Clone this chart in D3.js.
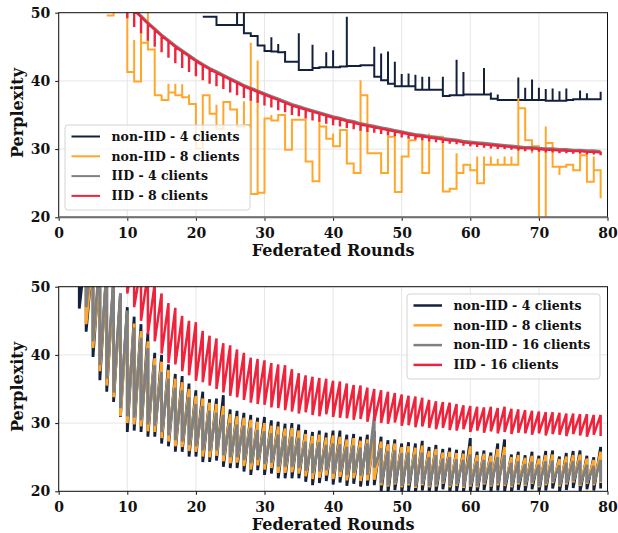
<!DOCTYPE html>
<html>
<head>
<meta charset="utf-8">
<script src="https://cdn.jsdelivr.net/npm/d3@7"></script>
<style>
body { margin: 0; background: #fff; }
text { font-family: "DejaVu Serif", serif; font-weight: bold; fill: #111; }
</style>
</head>
<body>
<svg id="chart" width="618" height="533"></svg>
<script>
// ---- data: top panel (non-IID 4/8 vs IID 4/8) ----
var xTicks = [0, 10, 20, 30, 40, 50, 60, 70, 80]
var yTicks = [20, 30, 40, 50]
var topLabels = ['non-IID - 4 clients', 'non-IID - 8 clients', 'IID - 4 clients', 'IID - 8 clients']
var botLabels = ['non-IID - 4 clients', 'non-IID - 8 clients', 'non-IID - 16 clients', 'IID - 16 clients']
var colors = ['#14213d', '#ffa62b', '#808080', '#ef233c']

var navyTopStart = 21
var navyTopBase = [49.4,49.4,48.2,48.2,48.2,48.2,47.0,46.6,45.2,44.4,44.3,44.2,42.8,42.8,41.6,41.6,41.9,42.0,42.0,42.0,42.1,42.2,42.2,42.3,42.3,40.6,40.1,39.6,39.2,39.2,39.2,38.7,38.7,38.7,38.7,37.8,37.9,37.9,38.0,38.0,38.0,38.0,37.4,37.2,37.2,37.2,37.2,37.2,37.2,37.2,37.1,37.1,37.1,37.2,37.3,37.3,37.3,37.3,37.3]
var navyTopSpike = [49.4,49.4,49.4,48.2,48.2,51,51,46.6,45.7,44.4,46.4,45.4,44.4,42.8,47.0,41.6,45.3,42.0,44.2,44.5,42.1,49.4,42.2,42.3,42.3,45.0,44.0,44.3,42.8,41.0,41.1,40.9,40.6,40.6,38.7,40.6,37.9,43.1,41.3,38.0,38.0,41.9,38.3,38.0,37.2,37.2,40.5,39.0,40.2,39.0,38.8,38.9,38.5,38.9,37.3,38.6,38.2,37.3,38.4]

var orangeTopStart = 7
var orangeTopBase = [49.6,51,51,41.3,39.9,45.6,44.6,37.9,37.2,38.3,37.9,37.6,36.6,30.1,37.9,35.2,33.0,36.9,35.8,33.3,33.5,23.4,23.6,34.5,34.2,35.0,29.9,34.3,34.3,28.2,25.3,33.3,31.5,30.4,32.8,27.9,26.5,37.9,29.4,29.4,26.5,31.8,23.7,28.9,31.3,31.8,26.5,31.8,31.8,23.8,24.2,26.5,27.7,26.9,25.0,27.7,27.7,27.7,27.7,27.7,36.0,31.3,30.4,15,30.9,27.4,27.4,27.7,26.9,29.1,25.2,26.9,22.8]
var orangeTopSpike = [49.6,51,51,41.3,46.0,47.1,51,37.9,38.0,39.6,39.6,39.5,38.0,35.5,37.9,35.2,36.5,33.0,35.8,35.0,37.0,45.6,43.0,34.5,35.0,35.0,35.0,34.3,34.3,28.2,25.3,34.3,31.5,32.3,32.8,27.9,26.5,40.1,29.4,29.4,26.5,31.8,23.7,28.9,31.3,32.3,26.5,32.3,31.8,23.8,24.2,29.4,26.5,26.9,28.9,28.9,28.9,28.6,28.9,28.9,37.5,31.3,29.4,15,33.3,27.4,26.2,27.7,26.9,29.1,25.2,28.9,22.8]

var grayTopStart = 11
var grayTopBase = [50.5,49.6,48.6,47.7,46.8,46.0,45.2,44.5,43.8,43.1,42.5,41.9,41.4,40.9,40.4,39.9,39.4,39.0,38.6,38.2,37.8,37.4,37.0,36.6,36.3,36.0,35.7,35.4,35.1,34.8,34.6,34.3,34.1,33.8,33.6,33.4,33.2,33.0,32.8,32.6,32.4,32.2,32.1,31.9,31.8,31.6,31.5,31.4,31.2,31.1,31.0,30.9,30.8,30.7,30.6,30.5,30.4,30.3,30.3,30.2,30.1,30.1,30.0,30.0,29.9,29.9,29.8,29.8,29.7]

var redTopStart = 9
var redTopBase = [53,51.5,50.3,49.4,48.4,47.5,46.6,45.8,45.0,44.3,43.6,42.9,42.3,41.7,41.2,40.7,40.2,39.7,39.2,38.8,38.4,38.0,37.6,37.2,36.8,36.4,36.1,35.8,35.5,35.2,34.9,34.6,34.4,34.1,33.9,33.6,33.4,33.2,33.0,32.8,32.6,32.4,32.2,32.0,31.9,31.7,31.6,31.4,31.3,31.2,31.0,30.9,30.8,30.7,30.6,30.5,30.4,30.3,30.2,30.1,30.1,30.0,29.9,29.9,29.8,29.8,29.7,29.7,29.6,29.6,29.5]
var redTopDip = [50.5,49.2,47.9,47.0,45.9,45.0,44.2,43.4,42.6,41.9,41.3,40.7,40.1,39.6,39.2,38.8,38.3,37.9,37.5,37.1,36.8,36.4,36.1,35.7,35.4,35.0,34.8,34.5,34.2,34.0,33.7,33.5,33.3,33.1,32.9,32.7,32.5,32.4,32.2,32.0,31.9,31.7,31.5,31.4,31.3,31.1,31.0,30.9,30.8,30.7,30.5,30.4,30.3,30.2,30.1,30.0,30.0,29.9,29.8,29.7,29.7,29.6,29.5,29.5,29.4,29.4,29.3,29.3,29.2,29.2,29.1]

// ---- data: bottom panel (non-IID 4/8/16 vs IID 16) ----
var navyBotStart = 3
var navyBotHigh = [58,56,55,54,53,51,49,47,45.6,44.5,43.2,40.3,40.0,38.6,37.2,36.9,35.8,34.8,34.6,33.5,33.6,34.1,32.0,31.8,31.5,31.2,30.8,30.9,30.4,30.2,29.9,30.0,29.8,29.0,28.7,28.9,28.6,28.9,28.9,28.3,28.4,28.0,28.3,28.8,28.0,27.5,27.6,27.0,27.2,27.0,27.4,26.5,26.8,26.2,26.4,26.1,26.0,27.8,25.8,26.0,25.7,27.0,27.6,25.4,25.8,25.3,25.8,25.2,25.9,26.0,25.1,25.6,25.9,26.0,25.2,25.0,26.5]
var navyBotLow = [46.8,43.4,39.7,36.3,34.6,33.1,30.9,28.7,28.9,28.7,28.0,28.0,27.0,26.6,25.8,25.8,25.1,25.1,24.3,24.3,24.5,23.6,23.4,23.4,22.9,22.4,23.1,22.4,22.6,21.9,21.9,21.9,21.9,21.4,20.9,21.2,21.5,21.0,21.3,20.8,21.1,20.7,20.8,20.9,20.0,19.8,20.2,19.8,20.0,19.7,20.1,19.8,19.9,20.3,19.8,20.0,19.7,19.9,19.8,20.2,19.9,20.1,20.0,19.8,20.2,20.0,20.3,19.8,20.1,20.4,19.9,20.2,20.5,20.0,20.3,20.1,20.4]

var orangeBotStart = 4
var orangeBotHigh = [57,55,53,52,50,48,46,44.6,43.5,42.0,39.5,39.0,37.8,36.5,36.0,35.0,34.0,33.6,33.0,32.8,32.5,31.3,31.0,30.8,30.5,30.2,30.0,29.6,29.5,29.2,29.3,28.9,28.4,28.1,28.3,27.9,28.2,28.0,27.6,27.8,27.4,27.6,27.9,27.3,26.9,27.0,26.5,26.6,26.4,26.7,25.9,26.2,25.7,25.8,25.6,25.5,26.6,25.3,25.5,25.2,26.2,26.5,25.0,25.3,24.9,25.2,24.8,25.3,25.4,24.7,25.1,25.3,25.4,24.8,24.6,25.8]
var orangeBotLow = [44.5,41.0,37.6,35.5,33.8,31.0,30.0,29.8,29.5,28.8,28.7,27.8,27.3,26.6,26.5,25.9,25.8,25.1,25.0,25.2,24.4,24.1,24.2,23.7,23.2,23.8,23.2,23.4,22.7,22.7,22.8,22.6,22.2,21.8,22.0,22.3,21.8,22.1,21.6,21.9,21.5,21.6,21.7,20.9,20.7,21.0,20.6,20.9,20.5,20.9,20.6,20.7,21.1,20.6,20.8,20.5,20.7,20.6,21.0,20.7,20.9,20.8,20.6,21.0,20.8,21.1,20.6,20.9,21.2,20.7,21.0,21.3,20.8,21.1,20.9,21.2]

var grayBotStart = 4
var grayBotHigh = [58,56,54,52,51,49,46.5,44.0,42.5,41.0,38.5,37.5,36.5,35.2,34.8,33.8,32.8,32.5,31.8,31.5,31.2,30.0,29.8,29.6,29.3,29.0,28.8,28.5,28.3,28.1,28.0,27.8,27.3,27.0,27.2,26.8,27.0,26.9,26.5,26.7,26.4,27.0,31.0,26.3,25.9,26.0,25.6,25.7,25.4,25.7,25.0,25.3,24.8,25.0,24.7,24.6,25.4,24.4,24.6,24.3,25.0,25.3,24.2,24.4,24.0,24.3,23.9,24.4,24.5,23.8,24.2,24.4,24.5,23.9,23.7,24.6]
var grayBotLow = [47,42,38.5,36.5,34.5,32.2,31.0,30.8,30.4,29.8,29.6,28.7,28.2,27.5,27.3,26.8,26.6,26.0,25.9,26.0,25.3,25.0,25.0,24.6,24.1,24.6,24.0,24.2,23.6,23.6,23.6,23.4,23.0,22.7,22.9,23.1,22.6,22.9,22.4,22.7,22.3,22.4,23.5,21.2,20.9,21.2,20.8,21.1,20.7,21.1,20.8,20.9,21.3,20.8,21.0,20.7,20.9,20.8,21.2,20.9,21.1,21.0,20.8,21.2,21.0,21.3,20.8,21.1,21.4,20.9,21.2,21.5,21.0,21.3,21.1,21.4]

var redBotStart = 9
var redBotHigh = [58,56,55,53,52,50.5,49.0,47.6,46.9,45.7,45.0,44.8,43.5,42.8,42.4,41.7,41.4,40.8,40.3,39.6,39.4,39.2,38.8,38.6,38.5,37.9,37.3,37.0,36.8,36.6,36.5,36.2,36.1,35.8,35.6,35.5,35.2,35.0,34.8,34.6,34.4,34.2,34.0,33.9,33.7,33.4,33.2,33.1,33.0,32.8,32.6,32.5,32.4,32.3,32.4,32.2,32.4,32.1,32.0,31.9,31.8,31.7,31.6,31.6,31.5,31.4,31.4,31.3,31.3,31.2,31.2]
var redBotLow = [50,49,47,45,43,42,40.2,38.8,38.6,37.6,37.0,36.2,36.0,35.5,35.0,34.5,34.0,33.8,33.4,33.0,32.8,32.7,32.3,32.2,31.9,31.7,31.4,31.6,31.2,31.0,31.3,30.9,30.8,30.7,30.5,30.6,30.2,30.3,30.0,29.9,30.1,29.6,29.7,29.4,29.5,29.3,29.1,29.3,29.0,28.9,29.1,28.7,28.9,28.6,28.8,28.5,28.7,28.4,28.6,28.5,28.3,28.5,28.2,28.4,28.3,28.1,28.4,28.2,28.0,28.3,28.1]

// ---- layout ----
var svg = d3.select('#chart')
var x = d3.scaleLinear().domain([0, 80]).range([58.7, 607.5])
var panels = [
	{ id: 'top', y: d3.scaleLinear().domain([20, 50]).range([217.3, 12.7]) },
	{ id: 'bot', y: d3.scaleLinear().domain([20, 50]).range([491.3, 286.7]) }
]

function drawFrame(p) {
	var g = svg.append('g')
	var y = p.y
	// grid
	g.append('g').selectAll('line.vx').data(xTicks).enter().append('line')
		.attr('x1', d => x(d)).attr('x2', d => x(d))
		.attr('y1', y(50)).attr('y2', y(20))
		.attr('stroke', '#e3e3e3').attr('stroke-width', 0.9)
	g.append('g').selectAll('line.hy').data(yTicks).enter().append('line')
		.attr('x1', x(0)).attr('x2', x(80))
		.attr('y1', d => y(d)).attr('y2', d => y(d))
		.attr('stroke', '#e3e3e3').attr('stroke-width', 0.9)
	svg.append('clipPath').attr('id', 'clip-' + p.id).append('rect')
		.attr('x', x(0)).attr('y', y(50)).attr('width', x(80) - x(0)).attr('height', y(20) - y(50))
	p.lines = svg.append('g').attr('clip-path', 'url(#clip-' + p.id + ')')
	p.front = svg.append('g')
}

function drawAxes(p) {
	var y = p.y
	var ax = p.front.append('g').attr('transform', 'translate(0,' + y(20) + ')')
		.call(d3.axisBottom(x).tickValues(xTicks).tickFormat(d3.format('d')).tickSize(3.5).tickPadding(7.5))
	var ay = p.front.append('g').attr('transform', 'translate(' + x(0) + ',0)')
		.call(d3.axisLeft(y).tickValues(yTicks).tickFormat(d3.format('d')).tickSize(3.5).tickPadding(5))
	ax.select('.domain').remove()
	ay.select('.domain').remove()
	p.front.selectAll('.tick text').style('font-size', '14px').attr('fill', '#111')
		.style('font-family', '"DejaVu Serif", serif').style('font-weight', 'bold')
	p.front.selectAll('.tick line').attr('stroke', '#111')
	p.front.append('rect').attr('x', x(0)).attr('y', y(50))
		.attr('width', x(80) - x(0)).attr('height', y(20) - y(50))
		.attr('fill', 'none').attr('stroke', '#111').attr('stroke-width', 1)
	p.front.append('text').attr('x', (x(0) + x(80)) / 2).attr('y', y(20) + 39)
		.attr('text-anchor', 'middle').style('font-size', '16px').text('Federated Rounds')
	p.front.append('text')
		.attr('transform', 'translate(22.5,' + ((y(50) + y(20)) / 2 - 2) + ') rotate(-90)')
		.attr('text-anchor', 'middle').style('font-size', '16px').text('Perplexity')
}

function legend(p, labels, box, lw) {
	var g = p.front.append('g')
	g.append('rect').attr('x', box[0]).attr('y', box[1]).attr('width', box[2]).attr('height', box[3])
		.attr('rx', 3).attr('fill', 'white').attr('fill-opacity', 0.8)
		.attr('stroke', '#d4d4d4').attr('stroke-width', 1)
	labels.forEach(function(l, i) {
		var cy = box[1] + 11.5 + i * 19.8
		g.append('line').attr('x1', box[0] + 6.5).attr('x2', box[0] + 35)
			.attr('y1', cy).attr('y2', cy).attr('stroke', colors[i]).attr('stroke-width', lw)
		g.append('text').attr('x', box[0] + 46.5).attr('y', cy + 4.3)
			.style('font-size', '12.5px').text(l)
	})
}

// step series with a vertical spike at each round start
function stepPts(start, base, spike) {
	var pts = []
	base.forEach(function(b, i) {
		pts.push([start + i, spike[i]])
		pts.push([start + i, b])
	})
	return pts
}
// smooth series with a comb tooth at every round
function combPts(start, base, dip) {
	var pts = []
	base.forEach(function(b, i) {
		pts.push([start + i, b]); pts.push([start + i, dip[i]]); pts.push([start + i, b])
	})
	return pts
}
// saw series: vertical drop at each round, rise during the round
function sawPts(start, high, low) {
	var pts = []
	high.forEach(function(h, i) {
		pts.push([start + i, h]); pts.push([start + i, low[i]])
	})
	return pts
}

function plot(p, pts, color, width, curve) {
	var line = d3.line().x(d => x(d[0])).y(d => p.y(d[1])).curve(curve)
	p.lines.append('path').attr('d', line(pts)).attr('fill', 'none')
		.attr('stroke', color).attr('stroke-width', width)
		.attr('stroke-linejoin', 'miter').attr('stroke-miterlimit', 2)
}

panels.forEach(drawFrame)

var pTop = panels[0], pBot = panels[1]
plot(pTop, stepPts(navyTopStart, navyTopBase, navyTopSpike), colors[0], 2, d3.curveStepAfter)
plot(pTop, stepPts(orangeTopStart, orangeTopBase, orangeTopSpike), colors[1], 2, d3.curveStepAfter)
plot(pTop, grayTopBase.map((v, i) => [grayTopStart + i, v]), colors[2], 2.2, d3.curveLinear)
plot(pTop, combPts(redTopStart, redTopBase, redTopDip), colors[3], 2.4, d3.curveLinear)

plot(pBot, sawPts(navyBotStart, navyBotHigh, navyBotLow), colors[0], 2.8, d3.curveLinear)
plot(pBot, sawPts(orangeBotStart, orangeBotHigh, orangeBotLow), colors[1], 2.8, d3.curveLinear)
plot(pBot, sawPts(grayBotStart, grayBotHigh, grayBotLow), colors[2], 2.8, d3.curveLinear)
plot(pBot, sawPts(redBotStart, redBotHigh, redBotLow), colors[3], 2.5, d3.curveLinear)

panels.forEach(drawAxes)
// bottom spine of the upper panel reads grey in the original
pTop.front.append('line').attr('x1', x(0)).attr('x2', x(80)).attr('y1', pTop.y(20)).attr('y2', pTop.y(20))
	.attr('stroke', '#6e6e6e').attr('stroke-width', 2)

legend(pTop, topLabels, [65, 125, 185, 85], 2)
legend(pBot, botLabels, [407, 294, 193, 85], 2.5)
</script>
</body>
</html>
